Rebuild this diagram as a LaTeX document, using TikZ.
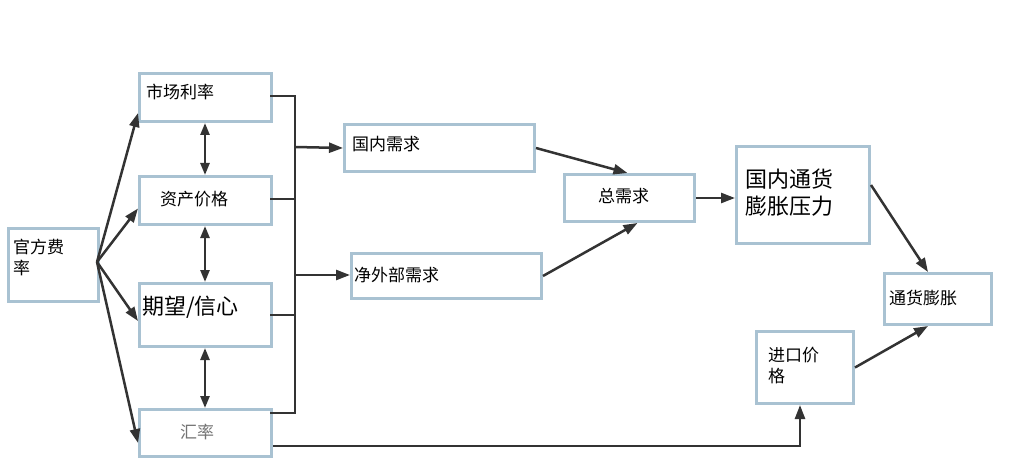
\documentclass[tikz,border=0pt]{standalone}
\usepackage{fontspec}
\setmainfont{Noto Sans CJK SC}
\usetikzlibrary{positioning,arrows.meta}
\definecolor{boxline}{HTML}{A9C2D2}
\tikzset{
	box/.style={draw=boxline, line width=3pt, fill=white, inner sep=0pt, anchor=north west},
	lbl/.style={font=\fontsize{17}{21}\selectfont, anchor=west, inner sep=0pt},
	big/.style={font=\fontsize{22}{27}\selectfont, anchor=west, inner sep=0pt, align=left},
	link/.style={-{Triangle[length=14pt,width=10pt]}, line width=2.5pt, color=black!80},
	both/.style={{Triangle[length=12pt,width=9pt]}-{Triangle[length=12pt,width=9pt]}, line width=2.5pt, color=black!80},
	bus/.style={line width=2.5pt, color=black!80}
}
\begin{document}
\begin{tikzpicture}[x=1pt,y=-1pt]
	\useasboundingbox (0,0) rectangle (1020,476);
	\node[box, minimum width=90pt, minimum height=73pt](rate) at (7,227){};
	\node[box, minimum width=132pt, minimum height=48pt](market) at (138,72){};
	\node[box, minimum width=132pt, minimum height=48pt](asset) at (138,175){};
	\node[box, minimum width=132pt, minimum height=63pt](expect) at (138,282){};
	\node[box, minimum width=132pt, minimum height=47pt](fx) at (138,408){};
	\node[box, minimum width=190pt, minimum height=47pt](home) at (343,123){};
	\node[box, minimum width=190pt, minimum height=45pt](netext) at (350,252){};
	\node[box, minimum width=130pt, minimum height=47pt](total) at (563,173){};
	\node[box, minimum width=133pt, minimum height=97pt](press) at (735,145){};
	\node[box, minimum width=107pt, minimum height=51pt](infl) at (883,272){};
	\node[box, minimum width=97pt, minimum height=72pt](import) at (755,330){};

	\node[lbl, align=left] (t-rate) at (13,257){官方费\\率};
	\node[lbl] (t-market) at (146,92){市场利率};
	\node[lbl] (t-asset) at (160,199){资产价格};
	\node[big] (t-expect) at (142,307){期望/信心};
	\node[lbl, color=black!55] (t-fx) at (180,432){汇率};
	\node[lbl] (t-home) at (352,144){国内需求};
	\node[lbl] (t-netext) at (354,275){净外部需求};
	\node[lbl] (t-total) at (598,196){总需求};
	\node[big] (t-press) at (745,193){国内通货\\膨胀压力};
	\node[lbl] (t-infl) at (889,298){通货膨胀};
	\node[lbl, align=left] (t-import) at (768,366){进口价\\格};

	% official rate to the four channels
	\coordinate (src) at (97,262);
	\draw[link] (src) -- ([yshift=10pt]market.south west);
	\draw[link] (src) -- ([yshift=-8pt]asset.west);
	\draw[link] (src) -- ([yshift=-6pt]expect.west);
	\draw[link] (src) -- ([yshift=-10pt]fx.west);

	% two-way links
	\draw[both] (market.south -| 205,0) -- (asset.north -| 205,0);
	\draw[both] (asset.south -| 205,0) -- (expect.north -| 205,0);
	\draw[both] (expect.south -| 205,0) -- (fx.north -| 205,0);

	% collecting line
	\coordinate (bt) at (295,96);
	\coordinate (bb) at (295,413);
	\draw[bus] (270,96) -- (bt) -- (bb) -- (270,413);
	\draw[bus] (270,199) -- (295,199);
	\draw[bus] (270,315) -- (295,315);
	\draw[link] (295,147) -- (home.west);
	\draw[link] (295,275) -- (netext.west |- 0,275);

	\draw[link] (home.east) -- ([xshift=-2pt]total.north);
	\draw[link] (netext.east) -- ([xshift=8pt]total.south);
	\draw[link] (total.east) -- (press.west |- total.east);
	\draw[link] ([yshift=10pt]press.east) -- ([xshift=-10pt]infl.north);
	\draw[link] (import.east) -- ([xshift=-10pt]infl.south);
	\draw[link] ([yshift=12pt]fx.south east) -- ([yshift=12pt]fx.south east -| 800,0) -- (import.south -| 800,0);
\end{tikzpicture}
\end{document}
